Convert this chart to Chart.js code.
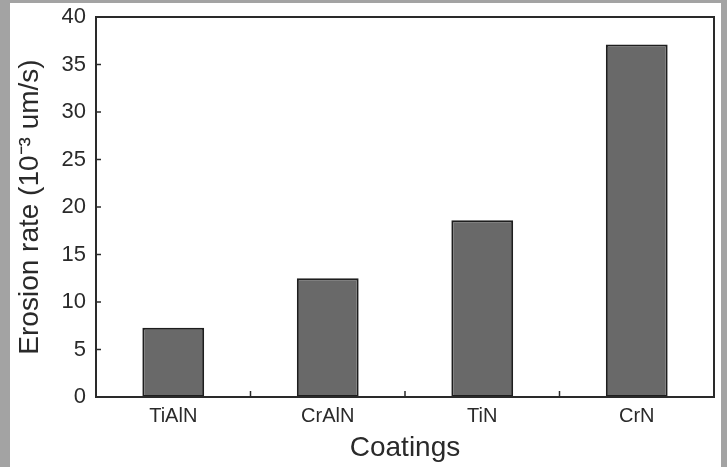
<!DOCTYPE html>
<html>
<head>
<meta charset="utf-8">
<script src="https://cdn.jsdelivr.net/npm/chart.js@4/dist/chart.umd.min.js"></script>
<style>
  html, body { margin: 0; padding: 0; }
  body { width: 727px; height: 467px; background: #a3a3a3; position: relative; overflow: hidden; }
  #frame { position: absolute; left: 10px; top: 3px; width: 711px; height: 464px; background: #fff; }
  #box { position: absolute; left: 0; top: 0; width: 711px; height: 464px; }
</style>
</head>
<body>
<div id="frame"><div id="box"><canvas id="chart"></canvas></div></div>
<script>
const coatings = ['TiAlN', 'CrAlN', 'TiN', 'CrN'];
const erosionRate = [7.3, 12.5, 18.6, 37.1];
const yTicks = [0, 5, 10, 15, 20, 25, 30, 35, 40];

const fontName = '"Liberation Sans", Arial, Helvetica, sans-serif';
const ink = '#2a2a2a';

// ticks drawn inside the plot box, plus the closed box itself
const innerTicks = {
    id: 'innerTicks',
    afterDatasetsDraw(chart) {
        const ctx = chart.ctx;
        const a = chart.chartArea;
        const xs = chart.scales.x;
        const ys = chart.scales.y;
        ctx.save();
        ctx.strokeStyle = ink;
        ctx.lineWidth = 1.5;
        yTicks.forEach(v => {
            const y = ys.getPixelForValue(v);
            ctx.beginPath();
            ctx.moveTo(a.left, y);
            ctx.lineTo(a.left + 5, y);
            ctx.stroke();
        });
        for (let i = 1; i < coatings.length; i++) {
            const x = (xs.getPixelForValue(i - 1) + xs.getPixelForValue(i)) / 2;
            ctx.beginPath();
            ctx.moveTo(x, a.bottom);
            ctx.lineTo(x, a.bottom - 6);
            ctx.stroke();
        }
        ctx.lineWidth = 2;
        ctx.strokeRect(a.left, a.top, a.right - a.left, a.bottom - a.top);
        ctx.restore();
    }
};

new Chart(document.getElementById('chart'), {
    type: 'bar',
    data: {
        labels: coatings,
        datasets: [{
            data: erosionRate,
            backgroundColor: '#696969',
            borderColor: '#1e1e1e',
            borderWidth: 2,
            borderSkipped: false,
            barPercentage: 0.4,
            categoryPercentage: 1
        }]
    },
    options: {
        responsive: true,
        maintainAspectRatio: false,
        animation: false,
        layout: { padding: { top: 14, right: 7, left: 0, bottom: 0 } },
        plugins: { legend: { display: false }, tooltip: { enabled: false } },
        scales: {
            x: {
                grid: { display: false, drawTicks: false },
                border: { display: false },
                ticks: { color: ink, font: { family: fontName, size: 20 }, padding: 7 },
                title: { display: true, text: 'Coatings', color: ink, font: { family: fontName, size: 28 }, padding: { top: 0, bottom: 2 } },
                afterFit(scale) {
                    scale.height = 70;
                    scale.paddingLeft = 0;
                    scale.paddingRight = 0;
                }
            },
            y: {
                min: 0,
                max: 40,
                afterBuildTicks(scale) { scale.ticks = yTicks.map(v => ({ value: v })); },
                grid: { display: false, drawTicks: false },
                border: { display: false },
                ticks: { color: ink, font: { family: fontName, size: 22 }, padding: 10 },
                title: { display: true, text: 'Erosion rate (10⁻³ um/s)', color: ink, font: { family: fontName, size: 28 }, padding: { top: 3, bottom: 0 } },
                afterFit(scale) {
                    scale.width = 86;
                    scale.paddingTop = 0;
                    scale.paddingBottom = 0;
                }
            }
        }
    },
    plugins: [innerTicks]
});
</script>
</body>
</html>
